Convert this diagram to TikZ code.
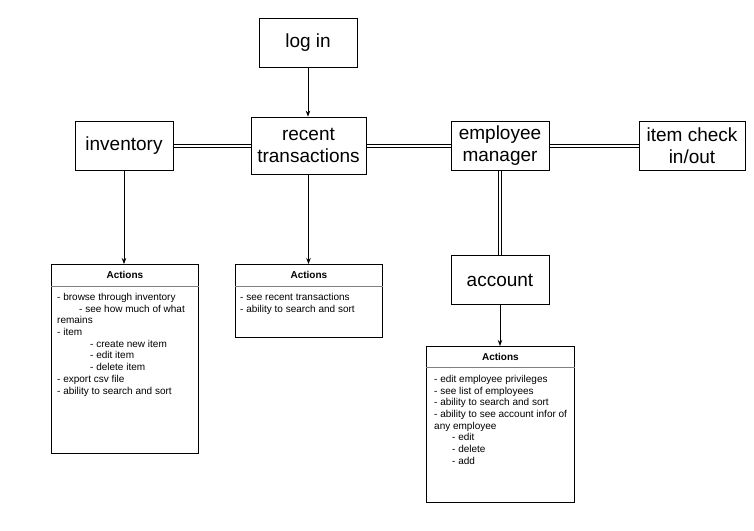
\documentclass[tikz,border=0pt]{standalone}
\usepackage{fontspec}
\setmainfont{Liberation Sans}
\usetikzlibrary{arrows.meta}

\tikzset{
  page/.style={draw, line width=0.8pt, inner sep=0pt, align=center,
    font=\fontsize{19}{22}\selectfont},
  actbox/.style={draw, line width=0.8pt, inner sep=0pt, anchor=north west},
  acthead/.style={font=\bfseries\fontsize{10}{12}\selectfont, inner sep=0pt},
  acttext/.style={anchor=north west, inner sep=0pt, align=left,
    font=\fontsize{10}{11.7}\selectfont},
  link/.style={line width=0.8pt},
  goto/.style={-{Stealth[length=6pt,width=4.5pt]}, line width=0.8pt},
}

\begin{document}
\begin{tikzpicture}[x=1pt,y=-1pt]
\useasboundingbox (0,0) rectangle (754,530);

% pages
\node[page, minimum width=98pt, minimum height=49pt] (login) at (308,42.5) {log in};
\node[page, minimum width=98pt, minimum height=49pt] (inventory) at (124,145.5) {inventory};
\node[page, minimum width=115pt, minimum height=57pt] (recent) at (308.5,145.5) {recent\\transactions};
\node[page, minimum width=98pt, minimum height=49pt] (employee) at (500,145.5) {employee\\manager};
\node[page, minimum width=106pt, minimum height=49pt] (itemcheck) at (692,145.5) {item check\\in/out};
\node[page, minimum width=98pt, minimum height=49pt] (account) at (500,280) {account};

% links between pages (double lines)
\foreach \s in {-1.6,1.6} {
  \draw[link] ([yshift=\s pt]inventory.east) -- ([yshift=\s pt]recent.west);
  \draw[link] ([yshift=\s pt]recent.east) -- ([yshift=\s pt]employee.west);
  \draw[link] ([yshift=\s pt]employee.east) -- ([yshift=\s pt]itemcheck.west);
  \draw[link] ([xshift=\s pt]employee.south) -- ([xshift=\s pt]account.north);
}

% action boxes
\node[actbox, minimum width=147pt, minimum height=189pt] (invact) at (51,264) {};
\node[actbox, minimum width=147pt, minimum height=73pt] (recact) at (235,264) {};
\node[actbox, minimum width=148pt, minimum height=156pt] (empact) at (426,346) {};

\draw[goto] (login.south) -- (login.south |- recent.north);
\draw[goto] (inventory.south) -- (inventory.south |- invact.north);
\draw[goto] (recent.south) -- (recent.south |- recact.north);
\draw[goto] (account.south) -- (account.south |- empact.north);

% headers
\node[acthead] (invhead) at ([yshift=-11pt]invact.north) {Actions};
\node[acthead] (rechead) at ([yshift=-11pt]recact.north) {Actions};
\node[acthead] (emphead) at ([yshift=-10.5pt]empact.north) {Actions};
\draw[gray, line width=0.6pt] ([yshift=-22pt]invact.north west) -- ([yshift=-22pt]invact.north east);
\draw[gray, line width=0.6pt] ([yshift=-22pt]recact.north west) -- ([yshift=-22pt]recact.north east);
\draw[gray, line width=0.6pt] ([yshift=-21pt]empact.north west) -- ([yshift=-21pt]empact.north east);

% lists
\node[acttext] (invlist) at ([xshift=6pt,yshift=-29pt]invact.north west) {%
- browse through inventory\\
\hspace*{22pt}- see how much of what\\
remains\\
- item\\
\hspace*{33pt}- create new item\\
\hspace*{33pt}- edit item\\
\hspace*{33pt}- delete item\\
- export csv file\\
- ability to search and sort};

\node[acttext] (reclist) at ([xshift=5pt,yshift=-29pt]recact.north west) {%
- see recent transactions\\
- ability to search and sort};

\node[acttext] (emplist) at ([xshift=8pt,yshift=-29pt]empact.north west) {%
- edit employee privileges\\
- see list of employees\\
- ability to search and sort\\
- ability to see account infor of\\
any employee\\
\hspace*{18pt}- edit\\
\hspace*{18pt}- delete\\
\hspace*{18pt}- add};
\end{tikzpicture}
\end{document}
